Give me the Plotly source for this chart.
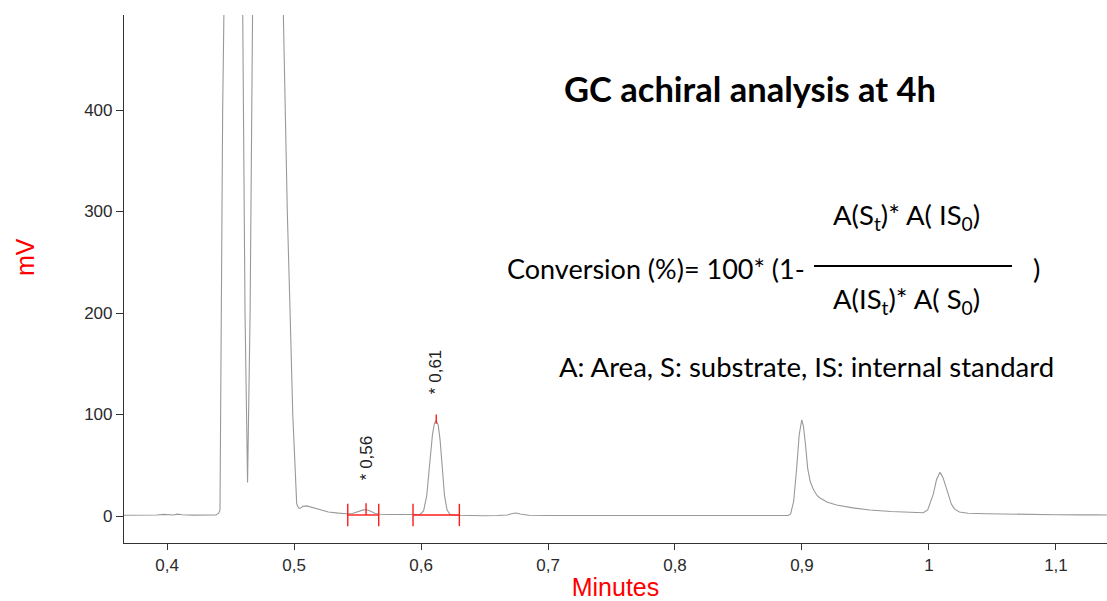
import plotly.graph_objects as go

# ---------------- data ----------------
time_min = [
    0.366, 0.375, 0.385, 0.392, 0.397, 0.400, 0.405, 0.408, 0.412, 0.420, 0.430, 0.4385,
    0.4405, 0.4417, 0.4438, 0.4449, 0.4460, 0.452, 0.4575, 0.4596, 0.4614, 0.4634,
    0.4654, 0.4672, 0.470, 0.478, 0.488, 0.4916, 0.4947, 0.4969, 0.4990, 0.5021,
    0.5035, 0.5047, 0.507, 0.510, 0.514, 0.520, 0.527, 0.535, 0.541, 0.546, 0.550,
    0.5545, 0.557, 0.560, 0.564, 0.568, 0.575, 0.585, 0.595, 0.5992, 0.602, 0.6045,
    0.6065, 0.609, 0.6105, 0.6118, 0.6135, 0.615, 0.6168, 0.6185, 0.6205, 0.6228,
    0.627, 0.635, 0.650, 0.660, 0.668, 0.672, 0.675, 0.678, 0.685, 0.700, 0.750,
    0.800, 0.850, 0.880, 0.889, 0.8911, 0.8935, 0.8958, 0.8978, 0.8998, 0.9012,
    0.9028, 0.9045, 0.9065, 0.909, 0.912, 0.9142, 0.920, 0.9273, 0.940, 0.9535,
    0.970, 0.985, 0.9955, 0.999, 1.0015, 1.0034, 1.006, 1.0087, 1.011, 1.0132,
    1.0152, 1.0175, 1.020, 1.024, 1.0307, 1.045, 1.060, 1.080, 1.100, 1.120,
    1.128, 1.131, 1.141,
]
signal_mv = [
    0.8, 0.8, 0.9, 1.0, 1.6, 1.2, 1.0, 1.8, 1.2, 0.9, 0.8, 1.0,
    2.5, 6, 400, 493, 600, 1200, 700, 493, 200, 33,
    200, 493, 900, 1500, 900, 493, 300, 200, 100, 12,
    8, 7.5, 9.5, 10, 8.5, 6, 4, 2.8, 2.2, 2.5, 4.5,
    6, 6.2, 5, 2.5, 1.7, 1.5, 1.2, 1.0, 1.5, 5, 20,
    47, 80, 91, 94, 90, 75, 47, 20, 6, 1.5,
    0.8, 0.5, 0.3, 0.5, 1.0, 2.5, 3, 2, 0.8, 0.5, 0.4,
    0.3, 0.3, 0.3, 0.5, 2, 15, 47, 80, 94.6, 88,
    70, 47, 34, 26, 20, 17.7, 13.5, 10.8, 8, 5.9,
    4.5, 3.7, 3.2, 6, 14, 21.5, 36, 43, 38, 30,
    21.5, 12, 7, 4, 2.7, 2.2, 1.8, 1.5, 1.3, 1.1,
    1.6, 1.1, 1.0,
]

# integrated peaks (retention time labels and integration limits)
peak_labels = ["* 0,56", "* 0,61"]
peak_apex_min = [0.5567, 0.6120]
peak_start_min = [0.5423, 0.5937]
peak_end_min = [0.5667, 0.6302]
peak_baseline_mv = [1.0, 1.0]
apex_mark_low_mv = [1.0, 91.0]
apex_mark_high_mv = [12.5, 100.0]
label_center_mv = [57, 142]

x_tick_vals = [0.4, 0.5, 0.6, 0.7, 0.8, 0.9, 1.0, 1.1]
x_tick_text = ["0,4", "0,5", "0,6", "0,7", "0,8", "0,9", "1", "1,1"]
y_tick_vals = [0, 100, 200, 300, 400]
y_tick_text = ["0", "100", "200", "300", "400"]

# ---------------- figure ----------------
W, H = 1107, 601                      # figure = window (body margin removed below)
PL, PR, PT, PB = 124, W, 15, 543      # plot area edges in pixels
ML, MR, MT, MB = PL, W - PR, PT, H - PB
X_RANGE = [0.3661, 1.1402]
Y_RANGE = [-26.6, 493.6]


def px(xs, ys):
    """pixel position -> paper coordinates"""
    return (xs - PL) / (PR - PL), (PB - ys) / (PB - PT)


fig = go.Figure()

fig.add_trace(go.Scatter(
    x=time_min, y=signal_mv, mode="lines",
    line=dict(color="#999999", width=1.1),
    hoverinfo="skip", showlegend=False,
))

# red integration marks built from the peak tables
mx, my = [], []
TICK_LO, TICK_HI = -10.0, 12.0
for s, e, a, b, lo, hi in zip(peak_start_min, peak_end_min, peak_apex_min,
                              peak_baseline_mv, apex_mark_low_mv, apex_mark_high_mv):
    mx += [s, s, None, e, e, None, s, e, None, a, a, None]
    my += [TICK_LO, TICK_HI, None, TICK_LO, TICK_HI, None, b, b, None, lo, hi, None]
fig.add_trace(go.Scatter(
    x=mx, y=my, mode="lines", line=dict(color="#ff1a1a", width=1.4),
    hoverinfo="skip", showlegend=False, connectgaps=False,
))

for lab, t, c in zip(peak_labels, peak_apex_min, label_center_mv):
    fig.add_annotation(x=t, y=c, xref="x", yref="y", text=lab, showarrow=False,
                       xanchor="center", yanchor="middle", textangle=-90,
                       font=dict(family="Liberation Sans, Arial", size=17, color="#222222"))

# title and formula text
TXT_FONT = "Lato, Open Sans, sans-serif"


def label(xs, ys, text, size, family=TXT_FONT, color="#000000", angle=0):
    x0, y0 = px(xs, ys)
    fig.add_annotation(x=x0, y=y0, xref="paper", yref="paper", showarrow=False,
                       xanchor="center", yanchor="middle", text=text, textangle=angle,
                       font=dict(family=family, size=size, color=color))


label(750, 88, "<b>GC achiral analysis at 4h</b>", 34.5)
label(656, 268, "Conversion (%)= 100* (1-", 27)
label(906, 216, "A(S<sub>t</sub>)* A( IS<sub>0</sub>)", 27.5)
label(906, 300, "A(IS<sub>t</sub>)* A( S<sub>0</sub>)", 27.5)
label(1036, 268, ")", 27.5)
label(806, 366, "A: Area, S: substrate, IS: internal standard", 27.5)
# y-axis title (sits above the axis middle in the reference)
label(25, 257, "mV", 25, family="Liberation Sans, Arial", color="#ff0000", angle=-90)

lx0, ly = px(814, 266)
lx1, _ = px(1012, 266)
fig.add_shape(type="line", xref="paper", yref="paper", x0=lx0, x1=lx1, y0=ly, y1=ly,
              line=dict(color="#000000", width=2))

AX_FONT = dict(family="Liberation Sans, Arial", size=17, color="#2a2a2a")
fig.update_layout(
    width=W, height=H,
    margin=dict(l=ML, r=MR, t=MT, b=MB, pad=0),
    paper_bgcolor="white", plot_bgcolor="white",
    showlegend=False,
    xaxis=dict(
        range=X_RANGE, tickvals=x_tick_vals, ticktext=x_tick_text,
        showgrid=False, zeroline=False, showline=True, linecolor="#333333", linewidth=1.2,
        ticks="outside", ticklen=6, tickcolor="#333333", tickfont=AX_FONT,
        title=dict(text="Minutes", font=dict(family="Liberation Sans, Arial", size=25, color="#ff0000"),
                   standoff=5),
    ),
    yaxis=dict(
        range=Y_RANGE, tickvals=y_tick_vals, ticktext=y_tick_text,
        showgrid=False, zeroline=False, showline=True, linecolor="#333333", linewidth=1.2,
        ticks="outside", ticklen=7, tickcolor="#333333", tickfont=AX_FONT,
    ),
)

fig.write_html(
    "out.html",
    config={"displayModeBar": False},
    post_script=("document.body.style.margin='0';"
                 "document.body.style.overflow='hidden';"
                 "document.documentElement.style.overflow='hidden';"),
)
